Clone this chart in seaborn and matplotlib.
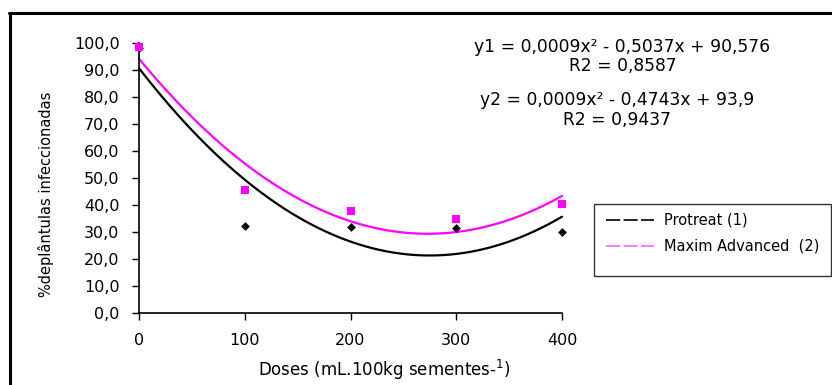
import numpy as np
import pandas as pd
import matplotlib
matplotlib.use("Agg")
import matplotlib.pyplot as plt
import seaborn as sns
from matplotlib.lines import Line2D
from matplotlib.patches import Rectangle
from matplotlib.ticker import FuncFormatter

# values
doses = [0, 100, 200, 300, 400]
protreat = [98.2, 32.3, 32.0, 31.7, 29.9]
maxim = [98.3, 45.7, 37.7, 34.8, 40.4]
eq1 = "y1 = 0,0009x² - 0,5037x + 90,576"
r2_1 = "R2 = 0,8587"
eq2 = "y2 = 0,0009x² - 0,4743x + 93,9"
r2_2 = "R2 = 0,9437"
labels = ["Protreat (1)", "Maxim Advanced  (2)"]

df = pd.DataFrame({"dose": doses, "protreat": protreat, "maxim": maxim})

sns.set_style("white")
plt.rcParams["font.family"] = ["DejaVu Sans"]
plt.rcParams["text.color"] = "black"

fig = plt.figure(figsize=(8.32, 3.85), dpi=100)
ax = fig.add_axes([139 / 832, 1 - 313.3 / 385, (562 - 139) / 832, (313.3 - 42.7) / 385])

# fitted 2nd order curves
sns.regplot(data=df, x="dose", y="protreat", order=2, ci=None, scatter=False,
            color="black", line_kws={"lw": 1.6}, ax=ax)
sns.regplot(data=df, x="dose", y="maxim", order=2, ci=None, scatter=False,
            color="#ff00ff", line_kws={"lw": 1.6}, ax=ax)
# observed points
sns.scatterplot(data=df, x="dose", y="protreat", marker="D", s=20, color="black",
                edgecolor="black", linewidth=0, ax=ax, zorder=3)
sns.scatterplot(data=df, x="dose", y="maxim", marker="s", s=26, color="#ff00ff",
                edgecolor="#ff00ff", linewidth=0, ax=ax, zorder=4)

ax.set_xlim(0, 400)
ax.set_ylim(0, 100)
ax.set_xticks(doses)
ax.set_yticks(np.arange(0, 101, 10))
ax.yaxis.set_major_formatter(FuncFormatter(lambda v, p: f"{v:.1f}".replace(".", ",")))
ax.tick_params(axis="both", direction="out", length=5, width=1, labelsize=11.5,
               colors="black", pad=9, left=True, bottom=True)
ax.set_xlabel("")
ax.set_ylabel("")
for side in ["top", "right"]:
    ax.spines[side].set_visible(False)
for side in ["left", "bottom"]:
    ax.spines[side].set_color("black")
    ax.spines[side].set_linewidth(1.2)
for art in ax.lines + ax.collections:
    art.set_clip_on(False)

# axis titles
fig.text(384 / 832, 1 - 370 / 385, "Doses (mL.100kg sementes-$^{1}$)", ha="center",
         va="center", fontsize=12)
fig.text(46 / 832, 1 - 194 / 385, "%deplântulas infeccionadas", rotation=90,
         ha="center", va="center", fontsize=10.5)

# equations
fig.text(622 / 832, 1 - 47 / 385, eq1, ha="center", va="center", fontsize=12.3)
fig.text(623 / 832, 1 - 66 / 385, r2_1, ha="center", va="center", fontsize=12.3)
fig.text(617 / 832, 1 - 100 / 385, eq2, ha="center", va="center", fontsize=12.3)
fig.text(617 / 832, 1 - 120 / 385, r2_2, ha="center", va="center", fontsize=12.3)

# legend
fig.patches.append(Rectangle((594 / 832, 1 - 276 / 385), 237 / 832, 72 / 385,
                             transform=fig.transFigure, fill=False,
                             edgecolor="#333333", lw=1))
handles = [Line2D([], [], color="black", lw=1.2, dashes=(8.5, 2)),
           Line2D([], [], color="#ff66ff", lw=1.2, dashes=(8.5, 2))]
fig.legend(handles, labels, loc="upper left", bbox_to_anchor=(606 / 832, 1 - 213 / 385),
           frameon=False, fontsize=10.5, handlelength=3.3, handletextpad=0.65,
           borderaxespad=0, borderpad=0, labelspacing=0.75)

# outer frame
fig.add_artist(Line2D([9 / 832, 1], [1 - 13 / 385] * 2, transform=fig.transFigure,
                      color="black", lw=2.2))
fig.add_artist(Line2D([10 / 832] * 2, [0, 1 - 13 / 385], transform=fig.transFigure,
                      color="black", lw=2.2))

fig.savefig("out.png", dpi=100)
